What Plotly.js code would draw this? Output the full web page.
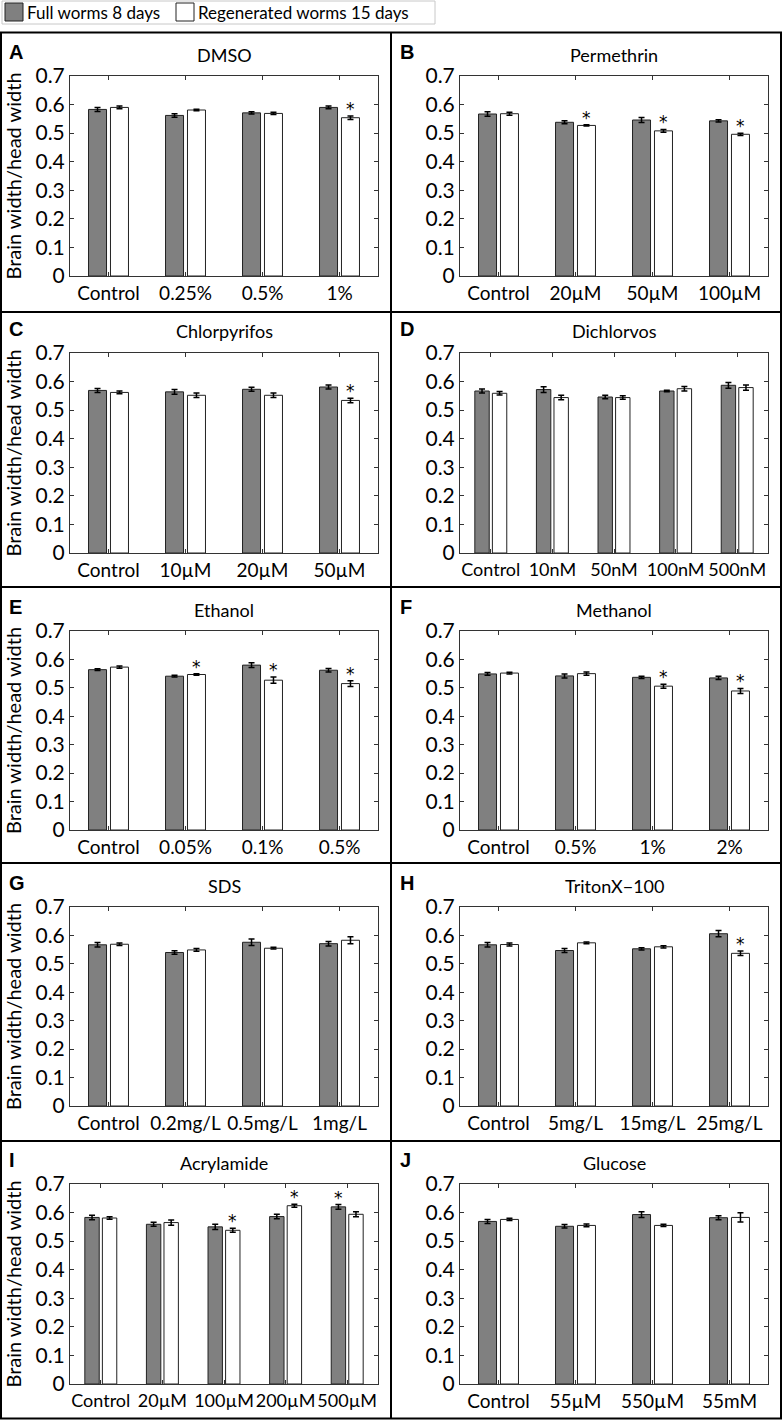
<!DOCTYPE html>
<html><head><meta charset="utf-8">
<script src="https://cdn.plot.ly/plotly-3.0.1.min.js"></script>
<style>html,body{margin:0;padding:0;background:#fff}#chart{width:783px;height:1420px}</style>
</head><body><div id="chart"></div>
<script>
// ---------- data ----------
const seriesNames = ['Full worms 8 days', 'Regenerated worms 15 days'];
const panelLetters = ['A','B','C','D','E','F','G','H','I','J'];
const panelTitles = ['DMSO','Permethrin','Chlorpyrifos','Dichlorvos','Ethanol','Methanol','SDS','TritonX\u2212100','Acrylamide','Glucose'];
const yAxisTitle = 'Brain width/head width';

const dmsoCats = ['Control','0.25%','0.5%','1%'];
const dmsoFull = [0.583,0.562,0.571,0.590];
const dmsoFullErr = [0.007,0.006,0.004,0.005];
const dmsoRegen = [0.590,0.581,0.569,0.554];
const dmsoRegenErr = [0.005,0.003,0.004,0.006];
const dmsoFullSig = ['','','',''];
const dmsoRegenSig = ['','','','*'];

const permCats = ['Control','20\u00b5M','50\u00b5M','100\u00b5M'];
const permFull = [0.567,0.538,0.546,0.543];
const permFullErr = [0.008,0.005,0.009,0.004];
const permRegen = [0.568,0.527,0.508,0.496];
const permRegenErr = [0.005,0.002,0.005,0.004];
const permFullSig = ['','','',''];
const permRegenSig = ['','*','*','*'];

const chlorCats = ['Control','10\u00b5M','20\u00b5M','50\u00b5M'];
const chlorFull = [0.569,0.564,0.573,0.581];
const chlorFullErr = [0.007,0.008,0.007,0.007];
const chlorRegen = [0.562,0.552,0.552,0.534];
const chlorRegenErr = [0.005,0.008,0.008,0.008];
const chlorFullSig = ['','','',''];
const chlorRegenSig = ['','','','*'];

const dichCats = ['Control','10nM','50nM','100nM','500nM'];
const dichFull = [0.567,0.572,0.546,0.567,0.587];
const dichFullErr = [0.007,0.010,0.006,0.003,0.010];
const dichRegen = [0.559,0.544,0.544,0.575,0.579];
const dichRegenErr = [0.006,0.008,0.006,0.008,0.009];
const dichFullSig = ['','','','',''];
const dichRegenSig = ['','','','',''];

const ethCats = ['Control','0.05%','0.1%','0.5%'];
const ethFull = [0.564,0.541,0.580,0.562];
const ethFullErr = [0.003,0.003,0.008,0.006];
const ethRegen = [0.573,0.547,0.527,0.515];
const ethRegenErr = [0.004,0.003,0.011,0.010];
const ethFullSig = ['','','',''];
const ethRegenSig = ['','*','*','*'];

const methCats = ['Control','0.5%','1%','2%'];
const methFull = [0.549,0.542,0.537,0.535];
const methFullErr = [0.005,0.007,0.004,0.006];
const methRegen = [0.552,0.550,0.506,0.489];
const methRegenErr = [0.003,0.006,0.007,0.009];
const methFullSig = ['','','',''];
const methRegenSig = ['','','*','*'];

const sdsCats = ['Control','0.2mg/L','0.5mg/L','1mg/L'];
const sdsFull = [0.567,0.540,0.576,0.571];
const sdsFullErr = [0.008,0.006,0.011,0.008];
const sdsRegen = [0.569,0.549,0.555,0.583];
const sdsRegenErr = [0.004,0.005,0.003,0.012];
const sdsFullSig = ['','','',''];
const sdsRegenSig = ['','','',''];

const tritonCats = ['Control','5mg/L','15mg/L','25mg/L'];
const tritonFull = [0.567,0.547,0.553,0.606];
const tritonFullErr = [0.008,0.007,0.004,0.011];
const tritonRegen = [0.568,0.574,0.560,0.537];
const tritonRegenErr = [0.005,0.003,0.004,0.008];
const tritonFullSig = ['','','',''];
const tritonRegenSig = ['','','','*'];

const acrylCats = ['Control','20\u00b5M','100\u00b5M','200\u00b5M','500\u00b5M'];
const acrylFull = [0.583,0.559,0.550,0.586,0.620];
const acrylFullErr = [0.008,0.007,0.009,0.008,0.008];
const acrylRegen = [0.581,0.565,0.538,0.624,0.594];
const acrylRegenErr = [0.004,0.009,0.007,0.005,0.009];
const acrylFullSig = ['','','','','*'];
const acrylRegenSig = ['','','*','*',''];

const glucCats = ['Control','55\u00b5M','550\u00b5M','55mM'];
const glucFull = [0.569,0.552,0.593,0.582];
const glucFullErr = [0.007,0.006,0.010,0.007];
const glucRegen = [0.576,0.555,0.555,0.583];
const glucRegenErr = [0.004,0.005,0.004,0.016];
const glucFullSig = ['','','',''];
const glucRegenSig = ['','','',''];

const yTickVals = [0,0.1,0.2,0.3,0.4,0.5,0.6,0.7];

// ---------- assembly ----------
const panels = [
  [dmsoCats, dmsoFull, dmsoFullErr, dmsoFullSig, dmsoRegen, dmsoRegenErr, dmsoRegenSig],
  [permCats, permFull, permFullErr, permFullSig, permRegen, permRegenErr, permRegenSig],
  [chlorCats, chlorFull, chlorFullErr, chlorFullSig, chlorRegen, chlorRegenErr, chlorRegenSig],
  [dichCats, dichFull, dichFullErr, dichFullSig, dichRegen, dichRegenErr, dichRegenSig],
  [ethCats, ethFull, ethFullErr, ethFullSig, ethRegen, ethRegenErr, ethRegenSig],
  [methCats, methFull, methFullErr, methFullSig, methRegen, methRegenErr, methRegenSig],
  [sdsCats, sdsFull, sdsFullErr, sdsFullSig, sdsRegen, sdsRegenErr, sdsRegenSig],
  [tritonCats, tritonFull, tritonFullErr, tritonFullSig, tritonRegen, tritonRegenErr, tritonRegenSig],
  [acrylCats, acrylFull, acrylFullErr, acrylFullSig, acrylRegen, acrylRegenErr, acrylRegenSig],
  [glucCats, glucFull, glucFullErr, glucFullSig, glucRegen, glucRegenErr, glucRegenSig]
];

const W = 783, H = 1420;
const FONT = 'Lato, "Open Sans", sans-serif';
const colPx = [[70, 378], [460, 768]];
const rowPx = [[76, 276], [353, 553], [631, 830], [907, 1106], [1184, 1384]];
const px = v => v / W;
const py = v => 1 - v / H;
const BARGAP = 0.43;

const fills = ['#808080', '#ffffff'];
const edge = '#222';
const traces = [];
const layout = {
  width: W, height: H,
  margin: {l: 0, r: 0, t: 0, b: 0},
  paper_bgcolor: '#fff', plot_bgcolor: '#fff',
  barmode: 'group', bargap: BARGAP, bargroupgap: 0.18,
  showlegend: false,
  annotations: [], shapes: []
};

panels.forEach((p, i) => {
  const col = i % 2, row = Math.floor(i / 2);
  const sfx = i === 0 ? '' : String(i + 1);
  const xa = 'x' + sfx, ya = 'y' + sfx;
  const cats = p[0];
  const [x0, x1] = colPx[col], [yt, yb] = rowPx[row];
  const barOffsetPx = (x1 - x0) / cats.length * (1 - BARGAP) / 4;
  for (let s = 0; s < 2; s++) {
    const vals = p[1 + 3 * s], errs = p[2 + 3 * s], sig = p[3 + 3 * s];
    traces.push({
      type: 'bar', x: cats, y: vals, name: seriesNames[s],
      xaxis: xa, yaxis: ya,
      marker: {color: fills[s], line: {color: edge, width: 1}},
      error_y: {type: 'data', array: errs, visible: true, color: '#000', thickness: 1.5, width: 3},
      hoverinfo: 'skip'
    });
    // significance asterisks, placed above each error bar
    sig.forEach((t, k) => {
      if (!t) return;
      layout.annotations.push({
        xref: xa, yref: ya, x: cats[k], y: vals[k] + errs[k],
        xshift: (s === 0 ? -1 : 1) * barOffsetPx, yshift: -5,
        xanchor: 'center', yanchor: 'bottom', showarrow: false,
        text: t, font: {family: '"DejaVu Sans", sans-serif', size: 17, color: '#000'}
      });
    });
  }
  layout['xaxis' + sfx] = {
    domain: [px(x0), px(x1)], anchor: ya, type: 'category', range: [-0.5, cats.length - 0.5],
    showline: true, mirror: 'ticks', linecolor: '#333', linewidth: 1,
    ticks: 'inside', ticklen: 4, tickcolor: '#333', tickangle: 0,
    tickfont: {family: FONT, size: cats.length > 4 ? 18 : 19, color: '#000'},
    showgrid: false, zeroline: false, fixedrange: true
  };
  layout['yaxis' + sfx] = {
    domain: [py(yb), py(yt)], anchor: xa, range: [0, 0.7],
    tickvals: yTickVals, ticktext: yTickVals.map(v => String(v)),
    showline: true, mirror: 'ticks', linecolor: '#333', linewidth: 1,
    ticks: 'inside', ticklen: 4, tickcolor: '#333',
    tickfont: {family: FONT, size: 21, color: '#000'},
    showgrid: false, zeroline: false, fixedrange: true,
    title: col === 0 ? {text: yAxisTitle, font: {family: FONT, size: 20, color: '#000'}, standoff: 8} : {text: ''}
  };
  layout.annotations.push({
    xref: 'paper', yref: 'paper', x: px((x0 + x1) / 2), y: py(yt - 21.5),
    xanchor: 'center', yanchor: 'middle', showarrow: false,
    text: panelTitles[i], font: {family: FONT, size: 18, color: '#000'}
  });
  layout.annotations.push({
    xref: 'paper', yref: 'paper', x: px(col === 0 ? 7 : 398), y: py(yt - 24),
    xanchor: 'left', yanchor: 'middle', showarrow: false,
    text: '<b>' + panelLetters[i] + '</b>', font: {family: 'Liberation Sans, Arial, sans-serif', size: 20, color: '#000'}
  });
});

// legend (drawn as a key box with swatches)
const legBox = {x0: 2, x1: 435, y0: 1, y1: 24};
const legItems = [{sw: 5, tx: 26}, {sw: 176, tx: 197}];
layout.shapes.push({type: 'rect', xref: 'paper', yref: 'paper', x0: px(legBox.x0), x1: px(legBox.x1), y0: py(legBox.y1), y1: py(legBox.y0), line: {color: '#c8c8c8', width: 1}, fillcolor: '#fff'});
legItems.forEach((it, s) => {
  layout.shapes.push({type: 'rect', xref: 'paper', yref: 'paper', x0: px(it.sw), x1: px(it.sw + 18), y0: py(21), y1: py(3), line: {color: edge, width: 1}, fillcolor: fills[s]});
  layout.annotations.push({xref: 'paper', yref: 'paper', x: px(it.tx), y: py(12.5), xanchor: 'left', yanchor: 'middle', showarrow: false,
    text: seriesNames[s], font: {family: FONT, size: 17, color: '#000'}, borderpad: 0});
});

// panel frame
const frameTop = 32.5, frameBottom = 1418.5, frameL = 1, frameR = 781, midX = 391;
const dividers = [312, 587, 863, 1141];
const lineStyle = {color: '#000', width: 2};
layout.shapes.push({type: 'rect', xref: 'paper', yref: 'paper', x0: px(frameL), x1: px(frameR), y0: py(frameBottom), y1: py(frameTop), line: lineStyle});
layout.shapes.push({type: 'line', xref: 'paper', yref: 'paper', x0: px(midX), x1: px(midX), y0: py(frameBottom), y1: py(frameTop), line: lineStyle});
dividers.forEach(d => layout.shapes.push({type: 'line', xref: 'paper', yref: 'paper', x0: px(frameL), x1: px(frameR), y0: py(d), y1: py(d), line: lineStyle}));

Plotly.newPlot('chart', traces, layout, {displayModeBar: false, staticPlot: true});
</script>
</body></html>
